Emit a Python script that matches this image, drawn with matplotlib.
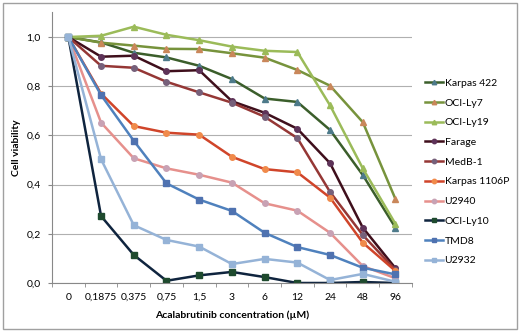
import numpy as np
import matplotlib.pyplot as plt
from matplotlib.patches import Rectangle

plt.rcParams['font.family'] = ['Lato', 'DejaVu Sans']

conc = ["0", "0,1875", "0,375", "0,75", "1,5", "3", "6", "12", "24", "48", "96"]

karpas422 = [1.0, 0.978, 0.936, 0.917, 0.883, 0.829, 0.750, 0.736, 0.622, 0.439, 0.225]
ocily7 = [1.0, 0.977, 0.965, 0.952, 0.951, 0.934, 0.916, 0.866, 0.802, 0.654, 0.341]
ocily19 = [1.0, 1.005, 1.042, 1.009, 0.987, 0.961, 0.944, 0.939, 0.722, 0.466, 0.240]
farage = [1.0, 0.920, 0.924, 0.861, 0.865, 0.739, 0.692, 0.627, 0.487, 0.225, 0.060]
medb1 = [1.0, 0.883, 0.875, 0.818, 0.775, 0.733, 0.676, 0.589, 0.370, 0.195, 0.053]
karpas1106p = [1.0, 0.770, 0.638, 0.611, 0.603, 0.513, 0.463, 0.450, 0.347, 0.164, 0.049]
u2940 = [1.0, 0.652, 0.507, 0.466, 0.440, 0.408, 0.324, 0.294, 0.204, 0.069, 0.019]
ocily10 = [1.0, 0.272, 0.114, 0.009, 0.031, 0.045, 0.024, 0.0, 0.0, 0.004, 0.0]
tmd8 = [1.0, 0.764, 0.578, 0.405, 0.339, 0.293, 0.204, 0.146, 0.114, 0.062, 0.035]
u2932 = [1.0, 0.503, 0.235, 0.175, 0.148, 0.077, 0.098, 0.083, 0.012, 0.037, 0.005]

series = [
    ("Karpas 422", karpas422, "#3b5e2b", "#4d7a8a", "^"),
    ("OCI-Ly7", ocily7, "#77933c", "#c9875a", "^"),
    ("OCI-Ly19", ocily19, "#9bbb59", "#9bbb59", "^"),
    ("Farage", farage, "#3f0f1c", "#5e3358", "o"),
    ("MedB-1", medb1, "#953735", "#76607a", "o"),
    ("Karpas 1106P", karpas1106p, "#d0452a", "#f08a4b", "o"),
    ("U2940", u2940, "#e6908c", "#c8a2b4", "o"),
    ("OCI-Ly10", ocily10, "#0f243e", "#1e4a2e", "s"),
    ("TMD8", tmd8, "#4f81bd", "#4f72b0", "s"),
    ("U2932", u2932, "#95b3d7", "#95b3d7", "s"),
]

fig = plt.figure(figsize=(5.2, 3.32), dpi=100)
ax = fig.add_axes([0.1, 0.1476, 0.692, 0.815])
x = np.arange(len(conc))

for name, vals, lc, mc, mk in series:
    ax.plot(x, vals, color=lc, lw=1.8, marker=mk, ms=4,
            mfc=mc, mec=mc, label=name)

ax.set_xlim(-0.5, len(conc) - 0.5)
ax.set_ylim(0, 1.1)
ax.set_yticks([0, 0.2, 0.4, 0.6, 0.8, 1.0])
ax.set_yticklabels(["0,0", "0,2", "0,4", "0,6", "0,8", "1,0"], fontsize=7.5)
ax.set_xticks(x)
ax.set_xticklabels(conc, fontsize=7.5)
ax.set_xticks(np.arange(-0.5, len(conc), 1), minor=True)
ax.tick_params(axis='x', which='major', length=0, pad=7)
ax.tick_params(axis='x', which='minor', length=3, color='#888888')
ax.tick_params(axis='y', length=3, color='#888888', pad=5)
ax.yaxis.grid(True, color='#b0b0b0', lw=0.8)
ax.set_axisbelow(True)
for s in ['top', 'right']:
    ax.spines[s].set_visible(False)
for s in ['left', 'bottom']:
    ax.spines[s].set_color('#888888')
    ax.spines[s].set_linewidth(0.8)

ax.set_ylabel("Cell viability", fontsize=7.5, fontweight='bold', labelpad=4)
ax.set_xlabel("Acalabrutinib concentration (µM)", fontsize=7.5, fontweight='bold', labelpad=6)

leg = ax.legend(loc='upper left', bbox_to_anchor=(1.01, 0.79), frameon=False,
                fontsize=7.5, handlelength=1.7, handletextpad=0.2,
                labelspacing=1.0, markerscale=0.8)

fig.patches.append(Rectangle((0.006, 0.009), 0.988, 0.982, transform=fig.transFigure,
                             fill=False, edgecolor='#a0a0a0', lw=1))

fig.savefig("out.png", dpi=100)
